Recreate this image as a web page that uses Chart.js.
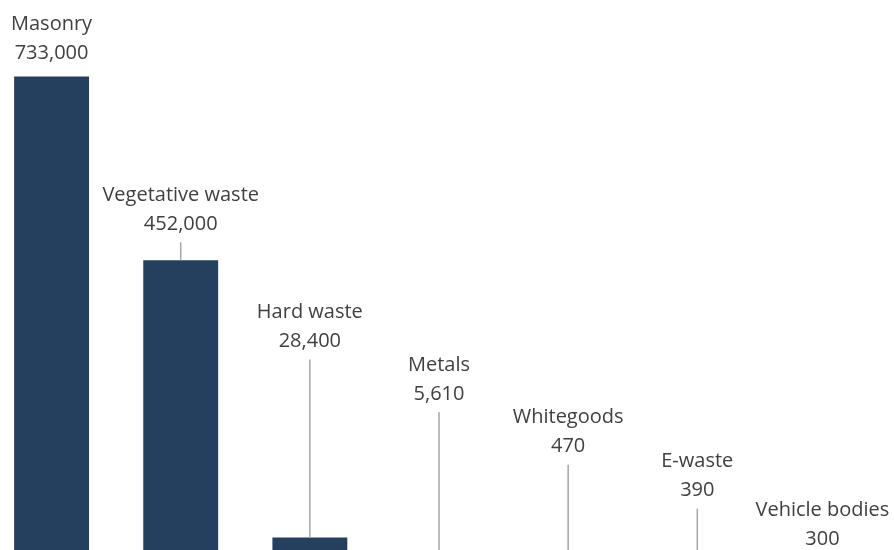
<!DOCTYPE html>
<html>
<head>
<meta charset="utf-8">
<script src="https://cdn.jsdelivr.net/npm/chart.js@4"></script>
<style>
  html, body { margin: 0; padding: 0; background: #fff; overflow: hidden; }
  #wrap { position: relative; width: 894px; height: 550px; overflow: hidden; }
  #box { position: absolute; left: -13px; top: 0; width: 904px; height: 556px; }
</style>
</head>
<body>
<div id="wrap"><div id="box"><canvas id="wasteChart"></canvas></div></div>
<script>
// waste streams (tonnes)
const categories = ['Masonry', 'Vegetative waste', 'Hard waste', 'Metals', 'Whitegoods', 'E-waste', 'Vehicle bodies'];
const tonnes = [733000, 452000, 28400, 5610, 470, 390, 300];
const valueLabels = ['733,000', '452,000', '28,400', '5,610', '470', '390', '300'];

// how far each dragged label sits above its bar (px), and sideways nudge
const labelLift = [23, 36, 196, 158, 109, 65, 17];
const labelNudge = [0, 0, 0, 0, 0, 0, -4];

const calloutPlugin = {
  id: 'callouts',
  afterDatasetsDraw(chart) {
    const ctx = chart.ctx;
    const meta = chart.getDatasetMeta(0);
    ctx.save();
    ctx.font = '20px "Open Sans"';
    ctx.fillStyle = '#404040';
    ctx.textAlign = 'center';
    ctx.textBaseline = 'middle';
    meta.data.forEach((bar, i) => {
      const numY = bar.y - labelLift[i];
      const tx = bar.x + labelNudge[i];
      ctx.fillText(valueLabels[i], tx, numY);
      ctx.fillText(categories[i], tx, numY - 29);
      const lineTop = numY + 18;
      if (bar.y - lineTop > 8) {
        ctx.strokeStyle = '#a6a6a6';
        ctx.lineWidth = 1.5;
        ctx.beginPath();
        ctx.moveTo(bar.x, lineTop);
        ctx.lineTo(bar.x, bar.y);
        ctx.stroke();
      }
    });
    ctx.restore();
  }
};

new Chart(document.getElementById('wasteChart'), {
  type: 'bar',
  data: {
    labels: categories,
    datasets: [{
      data: tonnes,
      backgroundColor: '#253f5f',
      categoryPercentage: 1,
      barPercentage: 0.58
    }]
  },
  options: {
    responsive: true,
    maintainAspectRatio: false,
    animation: false,
    layout: { padding: 0 },
    plugins: { legend: { display: false }, tooltip: { enabled: false } },
    scales: {
      x: { display: false },
      y: { display: false, min: 0, max: 850000 }
    }
  },
  plugins: [calloutPlugin]
});
</script>
</body>
</html>
